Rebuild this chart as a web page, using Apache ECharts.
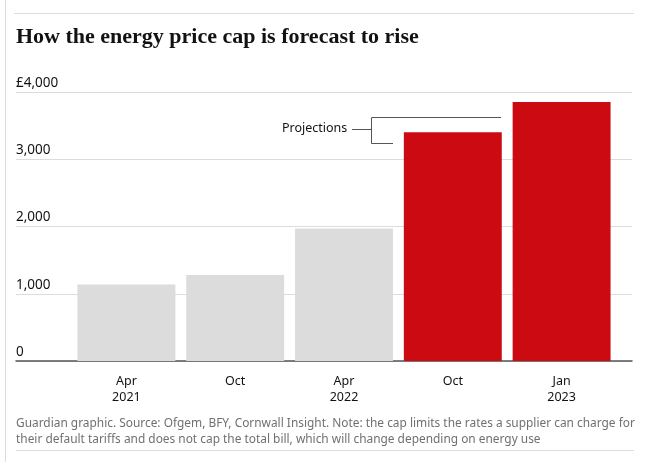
<!DOCTYPE html>
<html><head><meta charset="utf-8">
<script src="https://cdn.jsdelivr.net/npm/echarts@6/dist/echarts.min.js"></script>
<style>html,body{margin:0;padding:0;background:#fff}#c{width:648px;height:462px}</style>
</head><body><div id="c"></div>
<script>
const categories = ['Apr\n2021', 'Oct', 'Apr\n2022', 'Oct', 'Jan\n2023'];
const values = [1138, 1277, 1971, 3400, 3850];
const projected = [false, false, false, true, true];
const yTicks = [0, 1000, 2000, 3000, 4000];
const titleText = 'How the energy price cap is forecast to rise';
const footerText = 'Guardian graphic. Source: Ofgem, BFY, Cornwall Insight. Note: the cap limits the rates a supplier can charge for\ntheir default tariffs and does not cap the total bill, which will change depending on energy use';

const chart = echarts.init(document.getElementById('c'));
const sans = "'Noto Sans', 'Open Sans', sans-serif";
const gridTop = 92, gridH = 269;
chart.setOption({
  animation: false,
  title: {
    text: titleText, left: 11, top: 21,
    textStyle: { fontFamily: "'Liberation Serif', 'DejaVu Serif', serif", fontWeight: 'bold', fontSize: 22, color: '#121212' }
  },
  grid: [
    { left: 16, right: 16, top: gridTop, height: gridH },
    { left: 72, width: 544, top: gridTop, height: gridH }
  ],
  xAxis: [
    { gridIndex: 0, type: 'value', min: 0, max: 1, axisLine: { show: true, lineStyle: { color: '#555', width: 1.5 } },
      axisTick: { show: false }, axisLabel: { show: false }, splitLine: { show: false } },
    { gridIndex: 1, type: 'category', data: categories, axisLine: { show: false }, axisTick: { show: false },
      axisLabel: { margin: 12, fontFamily: sans, fontSize: 12.5, color: '#121212', lineHeight: 16 } }
  ],
  yAxis: [
    { gridIndex: 0, type: 'value', min: 0, max: 4000, interval: 1000,
      axisLine: { show: false }, axisTick: { show: false },
      splitLine: { lineStyle: { color: '#dcdcdc', width: 1 } },
      axisLabel: { inside: true, margin: 0, verticalAlign: 'bottom', align: 'left', padding: [0, 0, 2, 0],
        fontFamily: sans, fontSize: 13.5, color: '#121212',
        formatter: v => (v === yTicks[yTicks.length - 1] ? '£' : '') + v.toLocaleString('en-GB') } },
    { gridIndex: 1, type: 'value', min: 0, max: 4000, show: false }
  ],
  series: [{
    type: 'bar', xAxisIndex: 1, yAxisIndex: 1, barCategoryGap: '10%', z: 1,
    data: values.map((v, i) => ({ value: v, itemStyle: { color: projected[i] ? '#cc0a11' : '#dcdcdc' } }))
  }],
  graphic: [
    { type: 'line', shape: { x1: 5.5, y1: 0, x2: 5.5, y2: 462 }, style: { stroke: '#dcdcdc', lineWidth: 1 } },
    { type: 'line', shape: { x1: 14, y1: 13.5, x2: 634, y2: 13.5 }, style: { stroke: '#dcdcdc', lineWidth: 1 } },
    { type: 'line', shape: { x1: 16, y1: 450.5, x2: 634, y2: 450.5 }, style: { stroke: '#dcdcdc', lineWidth: 1 } },
    { type: 'text', left: 16, top: 416, style: { text: footerText, font: "11.9px 'Noto Sans', sans-serif", fill: '#707070', lineHeight: 16 } },
    { type: 'text', left: 282, top: 122, style: { text: 'Projections', font: "12.5px 'Noto Sans', sans-serif", fill: '#121212' } },
    { type: 'polyline', shape: { points: [[352, 129.5], [371.5, 129.5]] }, style: { stroke: '#555', lineWidth: 1 } },
    { type: 'polyline', shape: { points: [[501, 117.5], [371.5, 117.5], [371.5, 143.5], [393, 143.5]] }, style: { stroke: '#555', lineWidth: 1, fill: null } }
  ]
});
</script></body></html>
